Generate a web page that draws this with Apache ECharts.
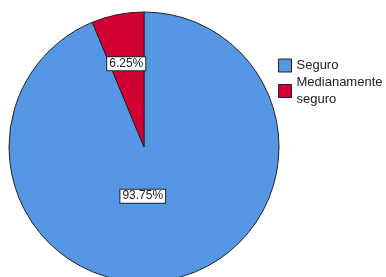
<!DOCTYPE html>
<html>
<head>
<meta charset="utf-8">
<script src="https://cdn.jsdelivr.net/npm/echarts@6/dist/echarts.min.js"></script>
<style>
html, body { margin: 0; padding: 0; background: #fff; }
#chart { width: 386px; height: 277px; }
</style>
</head>
<body>
<div id="chart"></div>
<script>
var categories = ['Seguro', 'Medianamente seguro'];
var values = [93.75, 6.25];
var colors = ['#5596e5', '#d30034'];
// label nudges, SPSS puts the labels nearer the centre than echarts does
var labelShift = [[-15, -20], [-4, -14]];

function initChart(con) {
    var chart = echarts.init(document.getElementById(con));
    var option = {
        animation: false,
        legend: {
            orient: 'vertical',
            left: 273,
            top: 52,
            itemWidth: 13,
            itemHeight: 13,
            itemGap: 0,
            icon: 'rect',
            itemStyle: { borderColor: '#222', borderWidth: 1 },
            formatter: function (name) {
                return name.replace(' ', '\n');
            },
            textStyle: {
                fontFamily: 'Liberation Sans, Arial, sans-serif',
                fontSize: 13,
                lineHeight: 17,
                color: '#222'
            },
            data: categories
        },
        series: [
            {
                type: 'pie',
                center: [144, 147],
                radius: 135,
                startAngle: 90,
                clockwise: true,
                itemStyle: { borderColor: '#222', borderWidth: 1 },
                emphasis: { disabled: true },
                label: {
                    position: 'inside',
                    formatter: function (p) { return p.value.toFixed(2) + '%'; },
                    fontFamily: 'Liberation Sans, Arial, sans-serif',
                    fontSize: 12,
                    color: '#222',
                    backgroundColor: '#fff',
                    borderColor: '#222',
                    borderWidth: 1,
                    padding: [1, 2, 0, 2]
                },
                labelLayout: function (params) {
                    var s = labelShift[params.dataIndex];
                    return { dx: s[0], dy: s[1] };
                },
                data: categories.map(function (c, i) {
                    return { name: c, value: values[i], itemStyle: { color: colors[i] } };
                })
            }
        ]
    };
    chart.setOption(option);
}
initChart('chart');
</script>
</body>
</html>
